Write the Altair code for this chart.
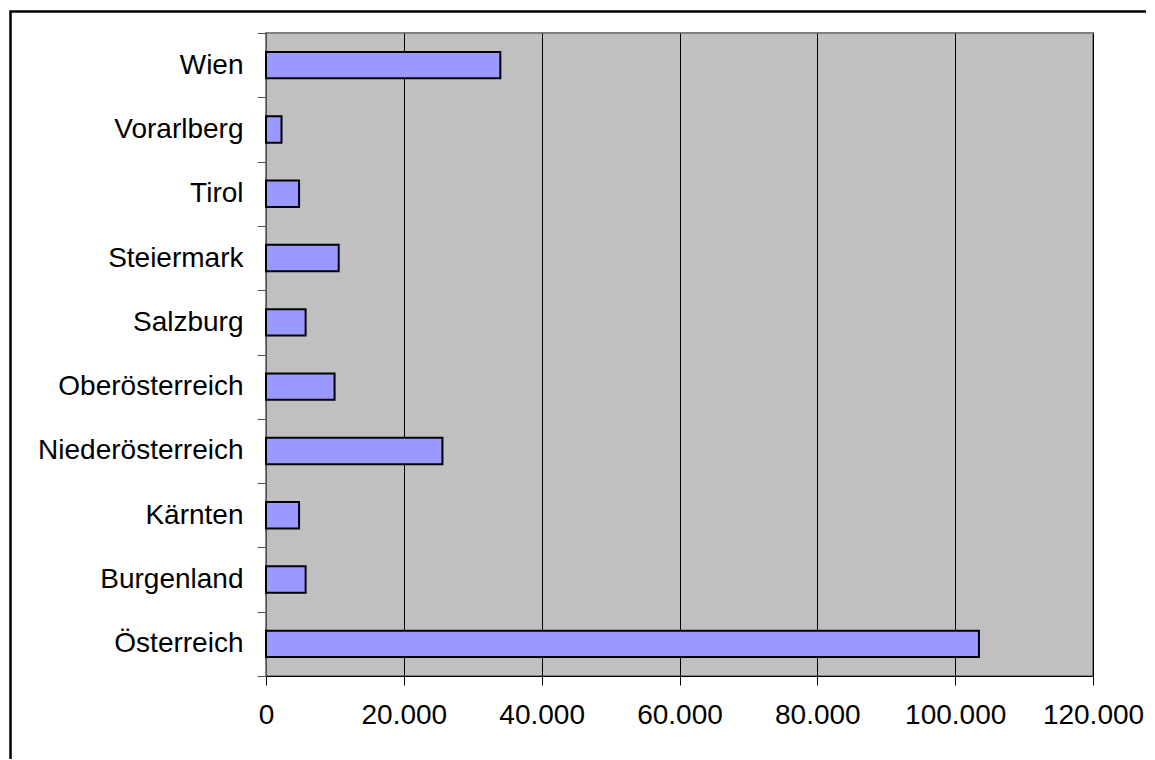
import altair as alt
import pandas as pd

regions = ["Wien", "Vorarlberg", "Tirol", "Steiermark", "Salzburg",
           "Oberösterreich", "Niederösterreich", "Kärnten", "Burgenland", "Österreich"]
values = [34000, 2250, 4800, 10550, 5750, 9950, 25600, 4800, 5750, 103450]
x_ticks = [0, 20000, 40000, 60000, 80000, 100000, 120000]

df = pd.DataFrame({"region": regions, "value": values})

FONT = "Liberation Sans"

bars = alt.Chart(df).mark_bar(
    fill="#9999FF", stroke="#000000", strokeWidth=2,
    height=alt.RelativeBandSize(0.41)
).encode(
    x=alt.X("value:Q",
            scale=alt.Scale(domain=[0, 120000], nice=False, zero=True),
            axis=alt.Axis(values=x_ticks, title=None, grid=True,
                          gridColor="#000000", gridWidth=1, gridOpacity=1,
                          domainColor="#000000", domainWidth=1,
                          tickColor="#000000", tickSize=9, tickWidth=1,
                          labelFont=FONT, labelFontSize=28, labelColor="#000000",
                          labelPadding=16, labelOverlap=False, labelLimit=400,
                          labelFlush=False,
                          labelExpr="replace(format(datum.value, ','), /,/g, '.')")),
    y=alt.Y("region:N", sort=regions,
            scale=alt.Scale(paddingInner=0, paddingOuter=0),
            axis=alt.Axis(title=None, tickBand="extent", grid=False,
                          domainColor="#505050", domainWidth=1,
                          tickColor="#505050", tickSize=9, tickWidth=1,
                          labelFont=FONT, labelFontSize=28, labelColor="#000000",
                          labelPadding=14, labelLimit=400, labelOverlap=False)),
)

frame = alt.Chart(pd.DataFrame({"f": [0]})).mark_rect(
    filled=False, stroke="#000000", strokeWidth=2.5, clip=False
).encode(
    x=alt.value(-255.5), x2=alt.value(960),
    y=alt.value(-21.5), y2=alt.value(800),
)

chart = alt.layer(frame, bars).properties(
    width=827, height=643,
    autosize=alt.AutoSizeParams(type="none"),
    padding={"left": 258, "top": 25, "right": 53, "bottom": 83},
    background="#FFFFFF",
).configure_view(
    fill="#C0C0C0", stroke="#808080", strokeWidth=2
)

chart.save("out.html", embed_options={"renderer": "svg", "actions": False})
